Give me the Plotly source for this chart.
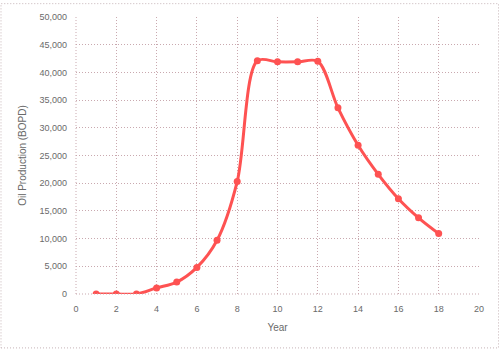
import plotly.graph_objects as go

years = [1, 2, 3, 4, 5, 6, 7, 8, 9, 10, 11, 12, 13, 14, 15, 16, 17, 18]
oil_bopd = [0, 0, 0, 1100, 2150, 4800, 9700, 20300, 42100, 41900, 41900, 42000,
            33600, 26850, 21600, 17200, 13750, 10900]
x_ticks = [0, 2, 4, 6, 8, 10, 12, 14, 16, 18, 20]
y_ticks = [0, 5000, 10000, 15000, 20000, 25000, 30000, 35000, 40000, 45000, 50000]

W, H = 500, 350
ML, MR, MT, MB = 76, 21, 14, 56
pw, ph = W - ML - MR, H - MT - MB

fig = go.Figure()
fig.add_trace(go.Scatter(
    x=years, y=oil_bopd, mode="lines+markers",
    line=dict(color="#fe5252", width=3, shape="spline", smoothing=0.9),
    marker=dict(color="#fe5252", size=7),
    showlegend=False,
))

grid = "#c9a9af"
dash = "1px,2px"
tickfont = dict(family="Liberation Sans, Arial, sans-serif", size=9, color="#6a6a6a")
titlefont = dict(family="Liberation Sans, Arial, sans-serif", size=10, color="#6a6a6a")
fig.update_layout(
    width=W, height=H,
    margin=dict(l=ML, r=MR, t=MT, b=MB),
    paper_bgcolor="white", plot_bgcolor="white",
    xaxis=dict(range=[0, 20], tickvals=x_ticks, ticktext=[str(v) for v in x_ticks],
               showgrid=True, gridcolor=grid, griddash=dash, gridwidth=1,
               zeroline=False, showline=False, ticks="", tickfont=tickfont,
               ticklabelstandoff=8,
               title=dict(text="Year", font=titlefont, standoff=10)),
    yaxis=dict(range=[0, 50000], tickvals=y_ticks,
               ticktext=[f"{v:,}" for v in y_ticks],
               showgrid=True, gridcolor=grid, griddash=dash, gridwidth=1,
               zeroline=False, showline=False, ticks="", tickfont=tickfont,
               ticklabelstandoff=8,
               title=dict(text="Oil Production (BOPD)", font=titlefont, standoff=10)),
)
# dotted boundary lines of plot area (left and bottom)
fig.add_shape(type="line", xref="paper", yref="paper", x0=0, x1=0, y0=0, y1=1,
              line=dict(color=grid, width=1, dash=dash))
fig.add_shape(type="line", xref="paper", yref="paper", x0=0, x1=1, y0=0, y1=0,
              line=dict(color=grid, width=1, dash=dash))
# outer chart frame
fig.add_shape(type="rect", xref="paper", yref="paper",
              x0=(1 - ML) / pw, x1=1 + (MR - 1.5) / pw,
              y0=-(MB - 1.5) / ph, y1=1 + (MT - 0.5) / ph,
              line=dict(color="#c6b4b7", width=1, dash=dash), layer="below")

fig.write_html("out.html")
